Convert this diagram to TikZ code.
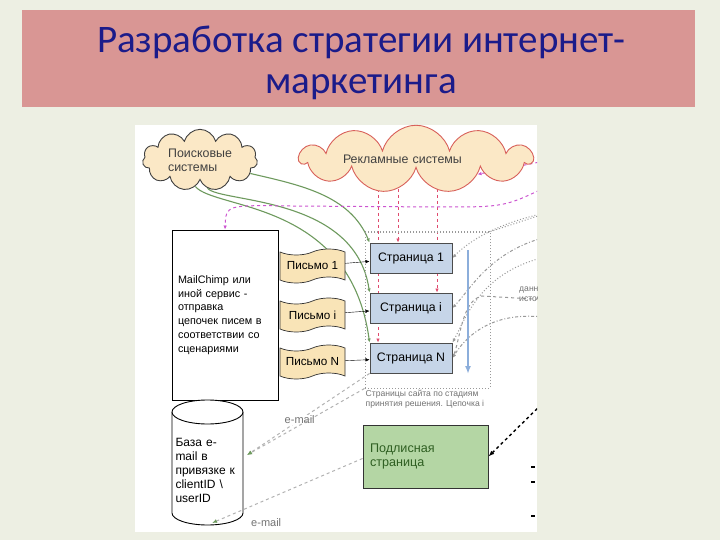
\documentclass[tikz,border=0pt]{standalone}
\usepackage{fontspec}
\setmainfont{Liberation Sans}
\newfontfamily\titlefont{Carlito}
\usetikzlibrary{shapes.symbols,arrows.meta,backgrounds}

\definecolor{slidebg}{HTML}{EDEFE3}
\definecolor{barpink}{HTML}{D99694}
\definecolor{titleblue}{HTML}{1B1B8A}
\definecolor{cloudfill}{HTML}{FBE8C6}
\definecolor{adborder}{HTML}{D8605A}
\definecolor{letterfill}{HTML}{F9E4B7}
\definecolor{pagefill}{HTML}{C6D5E8}
\definecolor{subfill}{HTML}{B4D6A4}
\definecolor{subtext}{HTML}{2F5F22}
\definecolor{seogreen}{HTML}{6E9A5E}
\definecolor{adred}{HTML}{E04A6E}
\definecolor{admagenta}{HTML}{CC55D0}
\definecolor{flowblue}{HTML}{8CAEDB}

\begin{document}
\begin{tikzpicture}[x=1pt,y=-1pt,>={Latex[length=4pt,width=3.5pt]}]
  \tikzstyle{titlebar}=[rectangle,fill=barpink,minimum width=673pt,minimum height=97pt]
  \tikzstyle{source}=[cloud,cloud puffs=11,cloud ignores aspect,draw=black!75,line width=.9pt,fill=cloudfill,text=black!75,font=\fontsize{12.4}{14}\selectfont,align=left]
  \tikzstyle{letter}=[tape,draw=black!80,line width=.7pt,fill=letterfill,minimum width=65pt,minimum height=34pt,tape bend height=6pt,font=\fontsize{11.7}{13}\selectfont]
  \tikzstyle{page}=[rectangle,draw=black!70,line width=.9pt,fill=pagefill,minimum width=82pt,minimum height=30pt,font=\fontsize{12.3}{14}\selectfont]
  \tikzstyle{service}=[rectangle,draw,line width=.9pt,fill=white,minimum width=106pt,minimum height=170pt,text width=94pt,align=left,font=\fontsize{10.8}{13.7}\selectfont]
  \tikzstyle{seo}=[draw=seogreen,line width=1.1pt,->]
  \tikzstyle{adline}=[draw=adred,line width=1pt,dashed,->]
  \tikzstyle{mline}=[draw=admagenta,line width=1pt,dashed,->]
  \tikzstyle{srcline}=[draw=gray!80,line width=1pt,dotted]
  \tikzstyle{mailline}=[draw=gray!60,line width=1pt,dashed,-{Latex[length=5pt,width=4pt,color=seogreen]}]
  \tikzstyle{small}=[text=gray!90!black,font=\fontsize{8.6}{10}\selectfont]
  \tikzstyle{maillabel}=[text=gray!90!black,font=\fontsize{11}{12}\selectfont,inner sep=1pt]

  \useasboundingbox (0,0) rectangle (720,540);
  \begin{pgfonlayer}{background}
    \fill[slidebg] (0,0) rectangle (720,540);
    \fill[white] (135,125) rectangle (537,532);
  \end{pgfonlayer}

  \node[titlebar] (bar) at (358.5,58.5) {};
  \node[align=center,text=titleblue,font=\titlefont\fontsize{39}{41}\selectfont] (title) at (361,63) {Разработка стратегии интернет-\\маркетинга};

  % sources of traffic
  \node[source,minimum width=115pt,minimum height=56pt] (SE) at (200,160) {Поисковые\\системы};
  \node[source,draw=adborder,minimum width=232pt,minimum height=62pt,text width=146pt] (AD) at (416,159) {Рекламные системы};

  % mailing service and letters
  \node[service] (MC) at (225,315) {MailChimp или\\иной сервис -\\отправка\\цепочек писем в\\соответствии со\\сценариями};
  \node[letter] (L_1) at (312.5,266) {Письмо 1};
  \node[letter] (L_i) at (312.5,315) {Письмо i};
  \node[letter] (L_N) at (312.5,362) {Письмо N};

  % site pages
  \node[rectangle,draw=gray!80,dotted,line width=1pt,minimum width=125pt,minimum height=156pt] (chain) at (427.5,310) {};
  \node[page] (P_1) at (411,258) {Страница 1};
  \node[page] (P_i) at (411,308) {Страница i};
  \node[page] (P_N) at (411,358) {Страница N};
  \node[small,anchor=north west,align=left,inner sep=1pt] (cap) at (chain.south west) {Страницы сайта по стадиям\\принятия решения. Цепочка i};
  \coordinate (F_1) at (468,250);
  \coordinate (F_2) at (468,374);
  \draw[draw=flowblue,line width=1.8pt,-{Latex[length=8pt,width=6pt]}] (F_1) -- (F_2);

  % e-mail base
  \draw[line width=.9pt,fill=white] (172,412) -- (172,513) arc[start angle=180,end angle=360,x radius=35.5pt,y radius=12pt] -- (243,412);
  \draw[line width=.9pt,fill=white] (207.5,412) ellipse [x radius=35.5pt,y radius=12pt];
  \node[text width=64pt,align=left,minimum width=71pt,minimum height=125pt,font=\fontsize{12}{14}\selectfont] (DB) at (207.5,470) {База e-\\mail в\\привязке к\\clientID \textbackslash\\userID};

  \node[rectangle,draw=black!80,line width=.9pt,fill=subfill,minimum width=125pt,minimum height=63pt,text width=111pt,align=left,text=subtext,font=\fontsize{12.6}{14}\selectfont] (SUB) at (425.5,456.5) {Подлисная\\страница};

  \begin{scope}
    \clip (135,125) rectangle (537,532);
    \node[small,anchor=west,align=left,inner sep=0pt] (info) at (519,294) {данные из\\источников};
  \end{scope}

  \coordinate (S_1) at (550,160);
  \coordinate (S_2) at (550,185);
  \coordinate (S_3) at (550,212);
  \coordinate (S_4) at (550,236);
  \coordinate (S_5) at (550,256);
  \coordinate (S_6) at (550,300);
  \coordinate (S_7) at (550,318);
  \coordinate (S_8) at (550,396);

  \begin{pgfonlayer}{background}
  \begin{scope}
    \clip (135,125) rectangle (537,532);
    \draw[seo] (SE.-15) .. controls (300,185) and (350,195) .. (P_1.north west);
    \draw[seo] (SE.-75) .. controls (220,203) and (355,195) .. (P_i.north west);
    \draw[seo] (SE.-100) .. controls (215,210) and (350,200) .. (P_N.north west);

    \draw[adline] (AD.center -| 398,0) -- (P_1.north -| 398,0);
    \draw[adline] (AD.center -| 437,0) -- (P_i.north -| 437,0);
    \draw[adline] (AD.center -| 378,0) -- (P_N.north -| 378,0);

    \draw[mline] (S_1) -- (AD.-14);
    \draw[mline] (S_2) .. controls (505,207) .. (440,207) -- (290,206) .. controls (226,205) .. (MC.north);

    \draw[srcline,->] (S_3) .. controls (500,222) and (470,240) .. (P_1.east);
    \draw[srcline] (chain.north east) -- (S_3);
    \draw[srcline,dash dot,->] (S_4) .. controls (490,250) and (470,290) .. (P_i.east);
    \draw[srcline,->] (S_5) .. controls (480,270) and (465,320) .. (P_N.north east);
    \draw[srcline,dashed,->] (S_6) -- (482,296) .. controls (462,300) and (460,340) .. (P_N.east);
    \draw[srcline,dash dot,->] (S_7) .. controls (500,310) and (470,330) .. (P_N.east);

    \draw[line width=1.4pt,dashed,->,>={Latex[length=6pt]}] (S_8) -- (SUB.east);
    \foreach \y in {467,482,516} {
      \draw[line width=1.2pt] (531,\y) -- (535,\y);
    }
  \end{scope}
  \end{pgfonlayer}

  \path (L_1) edge[->] (P_1)
        (L_i) edge[->] (P_i)
        (L_N) edge[->] (P_N);

  \path (P_N.south west) edge[mailline] node[fill=white,maillabel,pos=.57] {e-mail} (247,455)
        (chain.south west) edge[mailline] (247,455)
        ([yshift=-2pt]SUB.west) edge[mailline] node[maillabel,pos=.64,below=17pt] {e-mail} (212,523);
\end{tikzpicture}
\end{document}
